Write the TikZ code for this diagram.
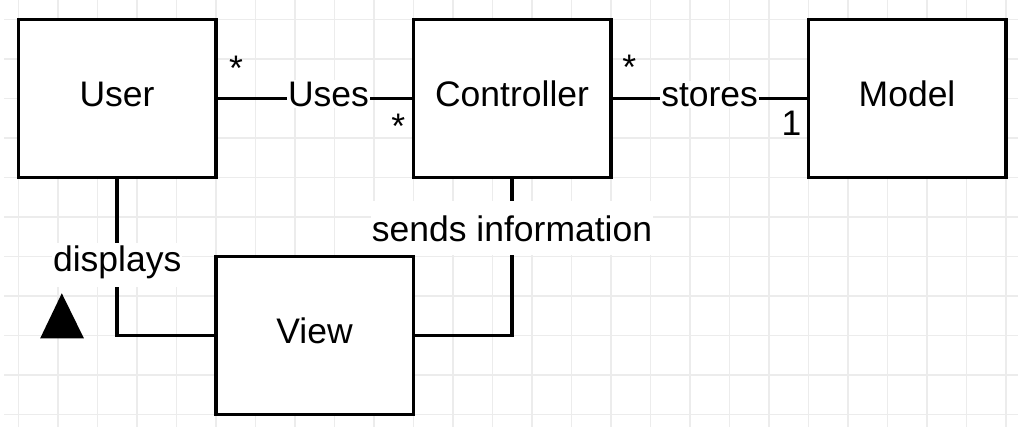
\documentclass[tikz,border=0pt]{standalone}
\usepackage{fontspec}
\setmainfont{Liberation Sans}
\definecolor{gridgray}{HTML}{ECECEC}
\begin{document}
\begin{tikzpicture}[x=1pt,y=-1pt,
  txt/.style={font=\fontsize{35.5}{41}\selectfont},
  box/.style={txt,draw=black,line width=3.5pt,fill=white,minimum width=197.5pt,minimum height=158pt,inner sep=0pt,text height=25.5pt,text depth=9.8pt},
  conn/.style={line width=3.5pt},
  lbl/.style={txt,fill=white,inner xsep=1pt,inner ysep=2pt,anchor=base},
  mult/.style={txt,anchor=base,inner sep=0pt},
  gridline/.style={draw=gridgray,line width=1.5pt}]
\useasboundingbox (0,0) rectangle (1018,434);
% grid
\foreach \k in {0,...,25}{\draw[gridline] (18.3+39.5*\k,0) -- (18.3+39.5*\k,427);}
\foreach \j in {0,...,10}{\draw[gridline] (4,19.3+39.5*\j) -- (1018,19.3+39.5*\j);}
% boxes
\node[box] (user) at (117.05,98.3) {User};
\node[box] (ctrl) at (512.05,98.3) {Controller};
\node[box] (model) at (907.05,98.3) {Model};
\node[box] (view) at (314.55,335.3) {View};
% connectors
\draw[conn] (user.east) -- (ctrl.west);
\draw[conn] (ctrl.east) -- (model.west);
\draw[conn] (user.south) |- (view.west);
\draw[conn] (ctrl.south) |- (view.east);
% labels
\node[lbl] (uses) at (328.5,106) {Uses};
\node[lbl] (stores) at (709.6,106) {stores};
\node[lbl,text height=27pt,text depth=13.5pt,inner ysep=1.7pt] (displays) at (117.2,271.7) {displays};
\node[lbl,text height=38pt,text depth=12pt] (sends) at (512.05,241) {sends information};
% multiplicities
\node[mult] (m1) at (236,80) {*};
\node[mult] (m2) at (398.3,138) {*};
\node[mult] (m3) at (629.3,79) {*};
\node[mult] (m4) at (791.5,135) {1};
% direction marker
\fill[black] (40.2,338.3) -- (61.8,293.3) -- (83.9,338.3) -- cycle;
\end{tikzpicture}
\end{document}
